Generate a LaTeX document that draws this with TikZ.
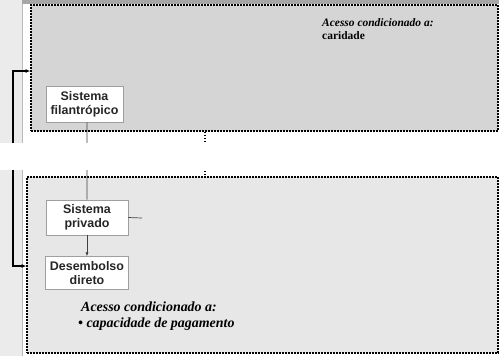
\documentclass[tikz,border=0pt]{standalone}
\usepackage{fontspec}
\setmainfont{Liberation Serif}
\setsansfont{Liberation Sans}
\usetikzlibrary{positioning,arrows.meta}

\begin{document}
\begin{tikzpicture}[x=1bp,y=-1bp,
        sys node/.style={rectangle, draw=gray!75, fill=white, line width=0.7bp,
        inner sep=0pt, align=center, text=black!85,
        font=\sffamily\bfseries\fontsize{12.5}{14.5}\selectfont},
        area node/.style={rectangle, draw=black, line width=1.6bp,
        dash pattern=on 1.6bp off 1.4bp, inner sep=0pt},
        note node/.style={align=left, inner sep=0pt, anchor=west}
        ]
        \useasboundingbox (0,0) rectangle (499,356);

        % moldura da tela
        \fill[gray!16] (0,0) rectangle (22,356);
        \draw[gray!55] (22,0) -- (22,356);
        \fill[gray!70] (22,0) rectangle (499,4);

        \node [area node, fill=gray!33, minimum width=467bp, minimum height=126bp] (caridade) at (264.5,68) {};
        \node [area node, fill=gray!19, minimum width=471bp, minimum height=176bp] (pagamento) at (262.5,265) {};

        \node [sys node, minimum width=77bp, minimum height=36bp] (filantropico) at (84.5,104) {Sistema\\filantrópico};
        \node [sys node, minimum width=82bp, minimum height=35bp] (privado) at (87,217.5) {Sistema\\privado};
        \node [sys node, minimum width=83bp, minimum height=33bp] (desembolso) [below=21bp of privado] {Desembolso\\direto};

        \node [note node, font=\bfseries\fontsize{11.5}{13}\selectfont] (notacaridade) at (322,29.5)
        {\textit{Acesso condicionado a:}\\caridade};
        \node [note node, font=\bfseries\itshape\fontsize{14}{16}\selectfont] (notapagamento) at (78,316)
        {\hspace*{3bp}Acesso condicionado a:\\\textbullet{} capacidade de pagamento};

        \coordinate (ponta) at (142,218);
        \coordinate (meio) at (205,0);
        \coordinate (gancho1) at (13,71);
        \coordinate (gancho2) at (13,266);

        \path[draw, black!75, line width=0.7bp]
        (filantropico.south -| privado.north) -- (privado.north)
        (privado) edge [-{Latex[length=4bp,width=3bp]}] (desembolso)
        (privado.east) -- (ponta)
        ;
        \draw[line width=1.6bp, dash pattern=on 1.6bp off 1.4bp] (caridade.south -| meio) -- (pagamento.north -| meio);
        \draw[line width=2bp, {Latex[length=4.5bp,width=4bp]}-{Latex[length=4.5bp,width=4bp]}]
        (caridade.west |- gancho1) -- (gancho1) -- (gancho2) -- (pagamento.west |- gancho2);

        % faixa branca do recorte
        \fill[white] (0,143) rectangle (499,170);
     \end{tikzpicture}
\end{document}
